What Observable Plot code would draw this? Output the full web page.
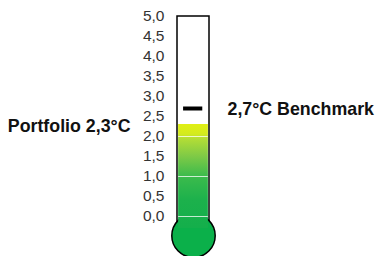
<!DOCTYPE html>
<html><head><meta charset="utf-8">
<script src="https://cdn.jsdelivr.net/npm/d3@7"></script>
<script src="https://cdn.jsdelivr.net/npm/@observablehq/plot@0.6"></script>
<style>body{margin:0;background:#fff;font-family:"Liberation Sans",Arial,sans-serif}</style>
</head><body><div id="chart"></div>
<script>
const portfolioValue = 2.3;
const benchmarkValue = 2.7;
const tickValues = [0, 0.5, 1, 1.5, 2, 2.5, 3, 3.5, 4, 4.5, 5];
const bandLines = [0, 1, 2];
const portfolioLabel = "Portfolio 2,3°C";
const benchmarkLabel = "2,7°C Benchmark";
const fmt = v => d3.format(".1f")(v).replace(".", ",");

const bulbY = -0.48;
const fillBottom = -0.3;
const stops = [[-0.3,"#14af4b"],[0.4,"#1cb14c"],[1.0,"#3cbb4c"],[1.5,"#7fca46"],[1.95,"#b5de35"],[2.05,"#d4eb1e"],[2.3,"#e0ef14"]];

const svg = Plot.plot({
  width: 376, height: 256,
  marginTop: 0, marginBottom: 0, marginLeft: 0, marginRight: 0,
  x: {domain: [-1, 1], range: [177, 209], axis: null},
  y: {domain: [0, 5], range: [216, 16], axis: null},
  style: {fontFamily: "'Liberation Sans', Arial, sans-serif", background: "white"},
  marks: [
    Plot.rect([0], {x1: -1, x2: 1, y1: -0.5, y2: 5, fill: "white", stroke: "black", strokeWidth: 1.5}),
    Plot.dot([0], {x: 0, y: bulbY, r: 21.7, fill: "#0bb04a", stroke: "black", strokeWidth: 1.5}),
    Plot.rect([portfolioValue], {x1: -0.93, x2: 0.93, y1: fillBottom, y2: d => d, fill: "url(#thermoGrad)"}),
    Plot.ruleY(bandLines, {x1: -0.93, x2: 0.93, stroke: "white", strokeOpacity: 0.75, strokeWidth: 1}),
    Plot.ruleY([benchmarkValue], {x1: -0.62, x2: 0.58, stroke: "black", strokeWidth: 4}),
    Plot.text(tickValues, {x: -1, y: d => d, text: fmt, textAnchor: "end", dx: -13, fontSize: 15.5, fill: "#333"}),
    Plot.text([portfolioValue], {x: -1, y: d => d, text: [portfolioLabel], textAnchor: "end", dx: -47, dy: 2, fontSize: 17.8, fontWeight: "bold", fill: "#111"}),
    Plot.text([benchmarkValue], {x: 1, y: d => d, text: [benchmarkLabel], textAnchor: "start", dx: 18, dy: 1, fontSize: 17.8, fontWeight: "bold", fill: "#111"})
  ]
});
const defs = d3.select(svg).append("defs");
const g = defs.append("linearGradient").attr("id", "thermoGrad")
  .attr("x1", 0).attr("y1", 1).attr("x2", 0).attr("y2", 0);
const span = portfolioValue - fillBottom;
stops.forEach(([v, c]) => g.append("stop").attr("offset", (v - fillBottom) / span).attr("stop-color", c));
document.getElementById("chart").append(svg);
</script></body></html>
